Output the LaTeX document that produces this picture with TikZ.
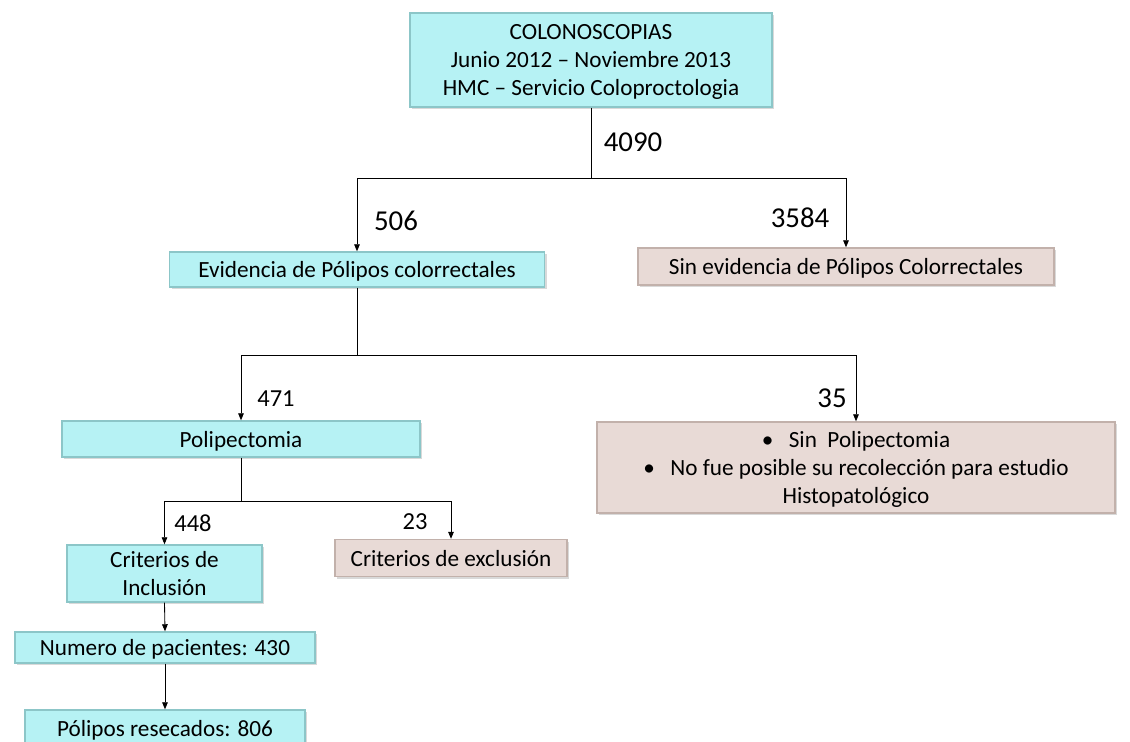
\documentclass[tikz,border=0pt]{standalone}
\usepackage{fontspec}
\setmainfont{Carlito}
\usetikzlibrary{arrows.meta,shadows}
\definecolor{cyanbox}{HTML}{B6F2F4}
\definecolor{cyanedge}{HTML}{8CC6C8}
\definecolor{rosebox}{HTML}{E8DAD6}
\definecolor{roseedge}{HTML}{C2B1AB}

\begin{document}
\begin{tikzpicture}[x=0.025cm, y=-0.025cm,
  box/.style = {draw=cyanedge, fill=cyanbox, line width=1pt, align=center, inner sep=0pt,
                text depth=0pt, font=\fontsize{16.5}{19.6}\selectfont,
                drop shadow={shadow xshift=1.5pt, shadow yshift=-1.5pt, opacity=.3}},
  greybox/.style = {box, draw=roseedge, fill=rosebox},
  num/.style = {font=\fontsize{20.5}{22}\selectfont},
  smallnum/.style = {font=\fontsize{17.4}{19}\selectfont},
  arr/.style = {-{Triangle[length=5pt, width=4pt]}, semithick}]
\useasboundingbox (0,0) rectangle (1130,742);

% boxes
\node [box, minimum width=362*0.025cm, minimum height=94*0.025cm] (colono) at (591,60)
  {COLONOSCOPIAS\\Junio 2012 -- Noviembre 2013\\HMC -- Servicio Coloproctologia};
\node [box, minimum width=375*0.025cm, minimum height=35*0.025cm] (evid) at (357,269.5)
  {Evidencia de Pólipos colorrectales};
\node [greybox, minimum width=416*0.025cm, minimum height=37*0.025cm] (sinevid) at (846,266.5)
  {Sin evidencia de Pólipos Colorrectales};
\node [box, minimum width=358*0.025cm, minimum height=36*0.025cm] (polip) at (241,439)
  {Polipectomia};
\node [greybox, minimum width=518*0.025cm, minimum height=91*0.025cm] (sinpolip) at (856,467.5)
  {\textbullet\hspace{11pt}Sin\ \ Polipectomia\\\textbullet\hspace{11pt}No fue posible su recolección para estudio\\Histopatológico};
\node [box, minimum width=195*0.025cm, minimum height=57*0.025cm] (incl) at (164.5,573.5)
  {Criterios de\\Inclusión};
\node [greybox, minimum width=232*0.025cm, minimum height=37*0.025cm] (excl) at (451,558)
  {Criterios de exclusión};
\node [box, minimum width=300*0.025cm, minimum height=31*0.025cm] (pac) at (165,647.5)
  {Numero de pacientes: 430};
\node [box, minimum width=280*0.025cm, minimum height=36*0.025cm] (resec) at (165,728)
  {Pólipos resecados: 806};

% connectors
\draw [semithick] (colono.south) -- (591,178) coordinate (j1);
\draw [arr] (j1) -| (evid.north);
\draw [arr] (j1) -| (sinevid.north);
\draw [semithick] (evid.south) -- (357,355) coordinate (j2);
\draw [arr] (j2) -| (polip.north);
\draw [arr] (j2) -| (sinpolip.north);
\draw [semithick] (polip.south) -- (241,501) coordinate (j3);
\draw [arr] (j3) -| (incl.north);
\draw [arr] (j3) -| (excl.north);
\draw [arr] (incl.south) -- (pac.north);
\draw [arr] (pac.south) -- (resec.north);

% numbers
\node [num] (n4090) at (633,142) {4090};
\node [num] (n506) at (396,221) {506};
\node [num] (n3584) at (800,218) {3584};
\node [smallnum] (n471) at (276,399) {471};
\node [num] (n35) at (832,398) {35};
\node [smallnum] (n448) at (193,523) {448};
\node [smallnum] (n23) at (415,522) {23};
\end{tikzpicture}
\end{document}
